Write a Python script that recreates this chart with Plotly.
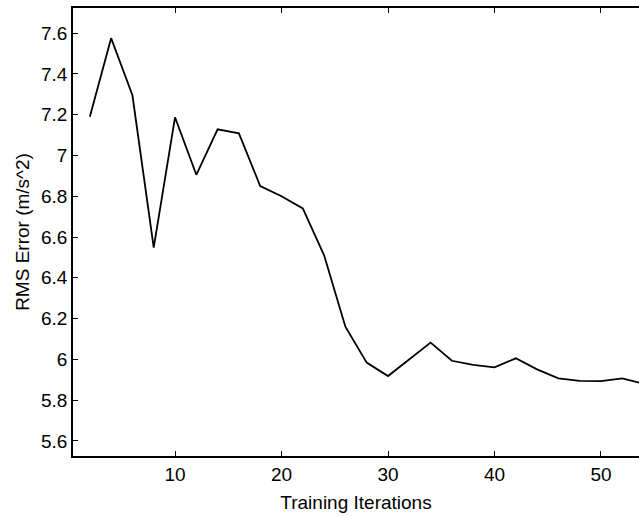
import plotly.graph_objects as go

iterations = [2, 4, 6, 8, 10, 12, 14, 16, 18, 20, 22, 24, 26, 28, 30, 32, 34,
              36, 38, 40, 42, 44, 46, 48, 50, 52, 54]
rms_error = [7.19, 7.575, 7.295, 6.548, 7.187, 6.905, 7.128, 7.108, 6.85, 6.80,
             6.74, 6.51, 6.16, 5.984, 5.918, 6.00, 6.082, 5.993, 5.973, 5.961,
             6.005, 5.951, 5.907, 5.894, 5.893, 5.907, 5.88]

x_ticks = [10, 20, 30, 40, 50]
y_ticks = [5.6, 5.8, 6.0, 6.2, 6.4, 6.6, 6.8, 7.0, 7.2, 7.4, 7.6]
y_tick_labels = ["5.6", "5.8", "6", "6.2", "6.4", "6.6", "6.8", "7", "7.2", "7.4", "7.6"]

fig = go.Figure()
fig.add_trace(go.Scatter(
    x=iterations, y=rms_error, mode="lines",
    line=dict(color="black", width=1.8),
    showlegend=False,
))

font = dict(family="Liberation Sans, Arial, sans-serif", size=19, color="black")

fig.update_layout(
    width=639, height=516,
    margin=dict(l=73, r=0, t=8, b=60),
    paper_bgcolor="white", plot_bgcolor="white",
    font=font,
    xaxis=dict(
        range=[0.42, 53.57],
        tickmode="array", tickvals=x_ticks,
        ticks="inside", ticklen=5, tickwidth=1, tickcolor="black",
        showline=True, linecolor="black", linewidth=1.5, mirror="ticks",
        showgrid=False, zeroline=False,
        title=dict(text="Training Iterations", font=font, standoff=12),
        tickfont=font,
    ),
    yaxis=dict(
        range=[5.526, 7.723],
        tickmode="array", tickvals=y_ticks, ticktext=y_tick_labels,
        ticks="inside", ticklen=5, tickwidth=1, tickcolor="black",
        showline=True, linecolor="black", linewidth=1.5, mirror=False,
        showgrid=False, zeroline=False,
        title=dict(text="RMS Error (m/s^2)", font=font, standoff=6),
        tickfont=font,
    ),
)

fig.write_html(
    "out.html",
    config={"displayModeBar": False},
    post_script="document.body.style.margin='0';document.body.style.overflow='hidden';",
)
